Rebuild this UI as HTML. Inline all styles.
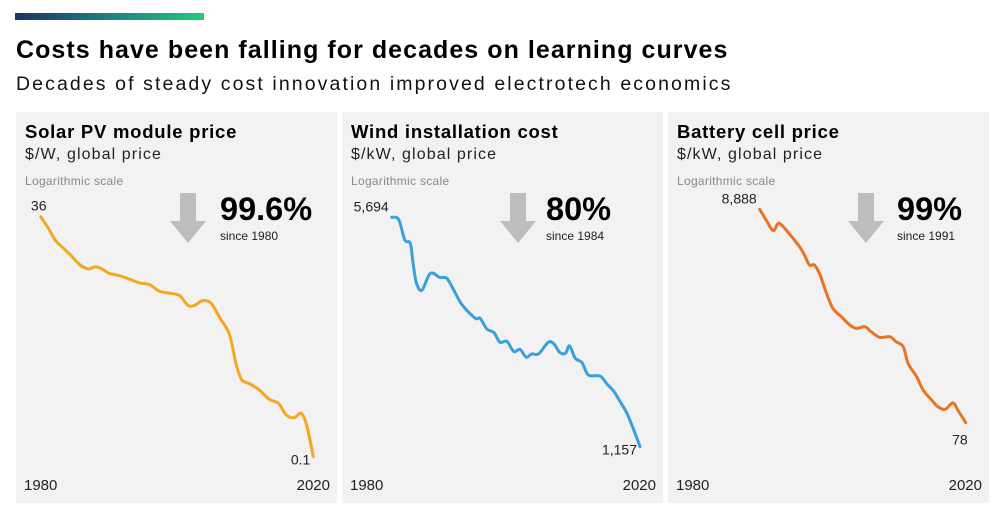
<!DOCTYPE html>
<html><head><meta charset="utf-8"><style>
body{margin:0;width:1000px;height:510px;background:#fff;font-family:"Liberation Sans",sans-serif;overflow:hidden;position:relative}
.t{position:absolute;white-space:nowrap}
</style></head><body>
<div class="t" style="left:15px;top:13px;width:189px;height:7px;background:linear-gradient(90deg,#1b3563,#1f7f86,#22cc7a)"></div>
<div class="t" style="left:16px;top:36px;font-size:25px;font-weight:bold;letter-spacing:1.05px;color:#000">Costs have been falling for decades on learning curves</div>
<div class="t" style="left:16px;top:73px;font-size:19.5px;letter-spacing:2.1px;color:#111">Decades of steady cost innovation improved electrotech economics</div>
<svg id="svg" width="1000" height="510" style="position:absolute;left:0;top:0"></svg>
<script>
const solarYears=[1980,1981,1982.2,1983.2,1984.4,1985.8,1987,1988,1989,1990,1991.5,1993,1994.5,1996,1997.4,1999,2000.4,2001.6,2002.6,2003.8,2005,2006.3,2007.7,2008.7,2009.5,2010.6,2012,2013.5,2014.9,2016,2017.2,2018.2,2019,2020];
const solarValues=[36,28,20,17,14,11,10,10.5,10,9,8.5,7.8,7.1,6.8,5.8,5.5,5.2,4.1,4.1,4.6,4.3,3.0,2.0,0.95,0.66,0.6,0.52,0.41,0.37,0.28,0.26,0.29,0.22,0.1];
const windYears=[1984,1985,1985.9,1986.7,1987.1,1987.6,1988.4,1989.6,1991,1992,1993,1994.2,1996.1,1996.8,1997.8,1998.8,1999.7,2000.7,2001.7,2002.6,2003.5,2004.3,2005.3,2006.7,2007.5,2008.4,2009.2,2009.8,2010.6,2011.6,2012.5,2014.2,2015.2,2016.2,2017.1,2018.1,2019.1,2020];
const windValues=[5694,5610,4865,4750,4130,3600,3435,3855,3750,3725,3435,3100,2825,2825,2620,2560,2390,2405,2240,2275,2155,2205,2205,2390,2365,2225,2215,2330,2140,2075,1905,1890,1790,1700,1585,1460,1300,1157];
const batteryYears=[1991,1991.9,1992.9,1993.6,1994.3,1995.5,1996.6,1997.3,1998,1998.7,1999.5,2000.4,2001.3,2002.5,2003.7,2004.6,2005.8,2006.7,2007.9,2009.3,2010.2,2011.2,2011.9,2013.1,2014,2015.2,2016.1,2017.1,2018.2,2018.9,2020];
const batteryValues=[8888,7020,5535,6515,6050,4845,3880,3225,2580,2580,2070,1377,986,820,681,632,656,587,518,526,470,421,290,216,161,129,111,105,121,103,78];
const panelTitles=["Solar PV module price","Wind installation cost","Battery cell price"];
const panelUnits=["$/W, global price","$/kW, global price","$/kW, global price"];
const pctLabels=["99.6%","80%","99%"];
const sinceLabels=["since 1980","since 1984","since 1991"];
const startLabels=["36","5,694","8,888"];
const endLabels=["0.1","1,157","78"];
const NS="http://www.w3.org/2000/svg";
const svg=document.getElementById('svg');
function mk(tag,attrs,parent){const e=document.createElementNS(NS,tag);for(const k in attrs)e.setAttribute(k,attrs[k]);(parent||svg).appendChild(e);return e;}
function txt(x,y,s,size,opts,parent){const e=mk('text',Object.assign({x:x,y:y,'font-size':size,'font-family':'Liberation Sans, sans-serif',fill:'#111'},opts||{}),parent);e.textContent=s;return e;}
function smooth(pts){let d='M'+pts[0][0].toFixed(1)+','+pts[0][1].toFixed(1);for(let i=0;i<pts.length-1;i++){const p0=pts[Math.max(0,i-1)],p1=pts[i],p2=pts[i+1],p3=pts[Math.min(pts.length-1,i+2)];const c1x=p1[0]+(p2[0]-p0[0])/6,c1y=p1[1]+(p2[1]-p0[1])/6,c2x=p2[0]-(p3[0]-p1[0])/6,c2y=p2[1]-(p3[1]-p1[1])/6;d+=`C${c1x.toFixed(1)},${c1y.toFixed(1)} ${c2x.toFixed(1)},${c2y.toFixed(1)} ${p2[0].toFixed(1)},${p2[1].toFixed(1)}`;}return d;}
const panels=[
 {left:16,years:solarYears,values:solarValues,color:'#f5a623',x0:1980,x1:2020,px0:40.7,px1:313.3,vTop:36,vBot:0.1,yTop:216.7,yBot:456.7,arrowX:188,pctX:220},
 {left:342,years:windYears,values:windValues,color:'#3a9fdc',x0:1984,x1:2020,px0:391.7,px1:640,vTop:5694,vBot:1157,yTop:217.3,yBot:446.7,arrowX:518,pctX:546},
 {left:668,years:batteryYears,values:batteryValues,color:'#ea7423',x0:1991,x1:2020,px0:759.7,px1:965.7,vTop:8888,vBot:78,yTop:209.3,yBot:422.7,arrowX:866,pctX:897}
];
panels.forEach((p,i)=>{
 const g=mk('g',{});
 
 
 const bg=mk('rect',{x:p.left,y:112,width:321,height:391,fill:'#f2f2f2'},g);
 
 
 const t=txt(p.left+9,138,panelTitles[i],18.5,{'font-weight':'bold',fill:'#000','letter-spacing':0.75},g);
 
 
 const u=txt(p.left+9,159,panelUnits[i],16,{fill:'#222','letter-spacing':1.1},g);
 
 
 const l=txt(p.left+9,185,'Logarithmic scale',12,{fill:'#888','letter-spacing':0.3},g);
 
 
 const a=p.arrowX;
 const ar=mk('polygon',{points:`${a-8},193 ${a+8},193 ${a+8},221 ${a+18},221 ${a},243 ${a-18},221 ${a-8},221`,fill:'#bdbdbd'},g);
 
 
 const pc=txt(p.pctX,220,pctLabels[i],32.5,{'font-weight':'bold',fill:'#000'},g);
 
 
 const sc=txt(p.pctX,240,sinceLabels[i],12,{fill:'#222'},g);
 
 
 const xs=v=>p.px0+(v-p.x0)/(p.x1-p.x0)*(p.px1-p.px0);
 const lt=Math.log10(p.vTop),lb=Math.log10(p.vBot);
 const ys=v=>p.yTop+(lt-Math.log10(v))/(lt-lb)*(p.yBot-p.yTop);
 const pts=p.years.map((yr,j)=>[xs(yr),ys(p.values[j])]);
 const path=mk('path',{d:smooth(pts),fill:'none',stroke:p.color,'stroke-width':3,'stroke-linejoin':'round','stroke-linecap':'round'},g);
 
 
 const n=p.years.length-1;
 const sl=txt(xs(p.years[0])-(i==0?2:3),ys(p.values[0])-6,startLabels[i],14,{'text-anchor':i==0?'middle':'end',fill:'#222'},g);
 
 
 const el=txt(xs(p.years[n])-(i==2?-2:3),i==2?ys(p.values[n])+22:ys(p.values[n])+8,endLabels[i],14,{'text-anchor':'end',fill:'#222'},g);
 
 
 const y1=txt(p.left+8,490,'1980',15,{fill:'#222'},g);
 
 
 const y2=txt(p.left+314,490,'2020',15,{'text-anchor':'end',fill:'#222'},g);
 
 
});
</script>
</body></html>
